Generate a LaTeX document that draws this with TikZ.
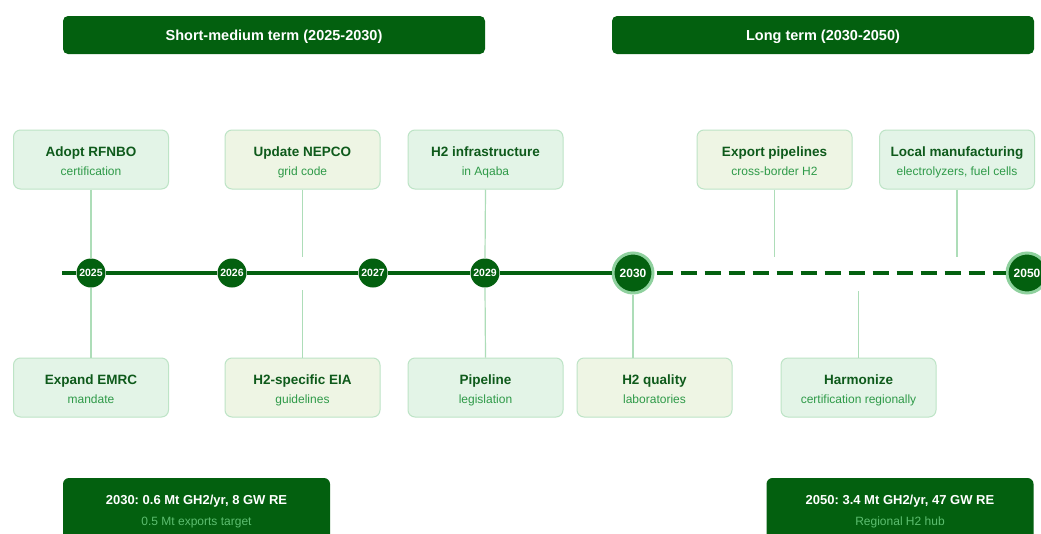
\documentclass[tikz,border=0pt]{standalone}
\usepackage{fontspec}
\setmainfont{Liberation Sans}
\frenchspacing
\begin{document}
\definecolor{darkg}{HTML}{03600F}
\definecolor{ringg}{HTML}{8FD19E}
\definecolor{edgeg}{HTML}{BDE4C6}
\definecolor{fillA}{HTML}{E3F4E7}
\definecolor{fillB}{HTML}{EEF5E4}
\definecolor{titleg}{HTML}{0E5A1B}
\definecolor{subg}{HTML}{2E9A48}
\definecolor{linkg}{HTML}{ADDDB8}
\definecolor{summsub}{HTML}{5DBE70}
\begin{tikzpicture}[x=1pt,y=-1pt,
  header/.style={fill=darkg,rounded corners=5pt,minimum width=422pt,minimum height=38pt,inner sep=0pt},
  headtext/.style={anchor=base,text=white,font=\fontsize{14.5}{16}\selectfont\bfseries},
  evbox/.style={draw=edgeg,line width=1pt,rounded corners=7pt,minimum width=155pt,
    minimum height=59pt,inner sep=0pt},
  evA/.style={evbox,fill=fillA},
  evB/.style={evbox,fill=fillB},
  evtitle/.style={anchor=base,font=\fontsize{13.5}{15}\selectfont\bfseries,text=titleg},
  evsub/.style={anchor=base,font=\fontsize{12}{14}\selectfont,text=subg},
  yr/.style={circle,fill=darkg,minimum size=29pt,inner sep=0pt,text=white,
    font=\fontsize{10.5}{12}\selectfont\bfseries},
  yrbig/.style={circle,fill=darkg,draw=ringg,line width=3pt,minimum size=40pt,inner sep=0pt,
    text=white,font=\fontsize{12}{14}\selectfont\bfseries},
  link/.style={draw=linkg,line width=1.2pt},
  axis/.style={draw=darkg,line width=4pt},
  summ/.style={fill=darkg,rounded corners=6pt,minimum width=267pt,minimum height=70pt,inner sep=0pt},
  summtitle/.style={anchor=base,font=\fontsize{13}{15}\selectfont\bfseries,text=white},
  summsubtitle/.style={anchor=base,font=\fontsize{12}{14}\selectfont,text=summsub}
]
\useasboundingbox (0,0) rectangle (1041,533);
\clip (0,0) rectangle (1041,533);
\fill[white] (0,0) rectangle (1041,533);

% period headers (text placed on its baseline; yshift is measured upwards)
\node[header] (hshort) at (274,35) {};
\node[headtext] (hshortT) at ([yshift=-5pt]hshort.center) {Short-medium term (2025-2030)};
\node[header] (hlong) at (823,35) {};
\node[headtext] (hlongT) at ([yshift=-5pt]hlong.center) {Long term (2030-2050)};

% an event box with its title and subtitle
\newcommand{\eventbox}[5]{%
  \node[#1] (#2) at #3 {};
  \node[evtitle] (#2T) at ([yshift=3.5pt]#2.center) {#4};
  \node[evsub] (#2S) at ([yshift=-16pt]#2.center) {#5};}

% year markers
\coordinate (start) at (62,273);
\node[yr] (y2025) at (91,273) {2025};
\node[yr] (y2026) at (232,273) {2026};
\node[yr] (y2027) at (373,273) {2027};
\node[yr] (y2029) at (485,273) {2029};
\node[yrbig] (y2030) at (633,273) {2030};
\node[yrbig] (y2050) at (1027,273) {2050};

% timeline axis
\draw[axis] (start) -- (y2025);
\draw[axis] (y2025) -- (y2026);
\draw[axis] (y2026) -- (y2027);
\draw[axis] (y2027) -- (y2029);
\draw[axis] (y2029) -- (y2030);
\draw[axis,dash pattern=on 16pt off 8pt] (y2030.east) ++(2,0) -- (y2050.west);

% upper events
\eventbox{evA}{rfnbo}{(91,159.5)}{Adopt RFNBO}{certification}
\eventbox{evB}{nepco}{(302.5,159.5)}{Update NEPCO}{grid code}
\eventbox{evA}{infra}{(485.5,159.5)}{H2 infrastructure}{in Aqaba}
\eventbox{evB}{export}{(774.5,159.5)}{Export pipelines}{cross-border H2}
\eventbox{evA}{manuf}{(957,159.5)}{Local manufacturing}{electrolyzers, fuel cells}

% lower events
\eventbox{evA}{emrc}{(91,387.5)}{Expand EMRC}{mandate}
\eventbox{evB}{eia}{(302.5,387.5)}{H2-specific EIA}{guidelines}
\eventbox{evA}{pipe}{(485.5,387.5)}{Pipeline}{legislation}
\eventbox{evB}{quality}{(654.5,387.5)}{H2 quality}{laboratories}
\eventbox{evA}{harm}{(858.5,387.5)}{Harmonize}{certification regionally}

% free ends of connectors that stop short of the axis
\coordinate (nepcoEnd) at (302.5,257);
\coordinate (exportEnd) at (774.5,257);
\coordinate (manufEnd) at (957,257);
\coordinate (eiaEnd) at (302.5,290);
\coordinate (harmEnd) at (858.5,291);
\coordinate (qualTop) at (633,358);

% connectors
\draw[link] (rfnbo.south) -- (y2025.north);
\draw[link] (nepco.south) -- (nepcoEnd);
\draw[link] (infra.south) -- (y2029.north);
\draw[link] (export.south) -- (exportEnd);
\draw[link] (manuf.south) -- (manufEnd);
\draw[link] (emrc.north) -- (y2025.south);
\draw[link] (eia.north) -- (eiaEnd);
\draw[link] (pipe.north) -- (y2029.south);
\draw[link] (qualTop) -- (y2030.south);
\draw[link] (harm.north) -- (harmEnd);

% targets
\node[summ] (t2030) at (196.5,513) {};
\node[summtitle] (t2030a) at (196.5,504) {2030: 0.6 Mt GH2/yr, 8 GW RE};
\node[summsubtitle] (t2030b) at (196.5,525.5) {0.5 Mt exports target};
\node[summ] (t2050) at (900,513) {};
\node[summtitle] (t2050a) at (900,504) {2050: 3.4 Mt GH2/yr, 47 GW RE};
\node[summsubtitle] (t2050b) at (900,525.5) {Regional H2 hub};
\end{tikzpicture}
\end{document}
